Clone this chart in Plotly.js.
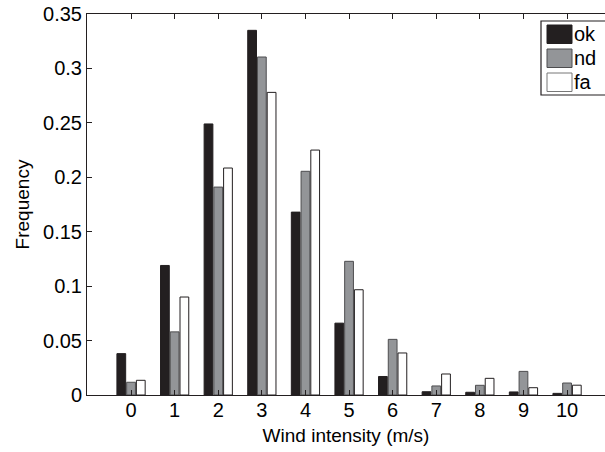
<!DOCTYPE html>
<html>
<head>
<meta charset="utf-8">
<script src="https://cdn.plot.ly/plotly-3.0.1.min.js"></script>
<style>html,body{margin:0;padding:0;background:#fff;}#chart{width:605px;height:452px;}</style>
</head>
<body>
<div id="chart"></div>
<script>
const windIntensity = [0, 1, 2, 3, 4, 5, 6, 7, 8, 9, 10];
const seriesNames = ["ok", "nd", "fa"];
const okValues = [0.038, 0.119, 0.249, 0.335, 0.168, 0.066, 0.017, 0.003, 0.0025, 0.0028, 0.0015];
const ndValues = [0.0117, 0.058, 0.191, 0.3105, 0.2055, 0.1228, 0.0511, 0.0083, 0.0089, 0.0217, 0.011];
const faValues = [0.0135, 0.090, 0.2085, 0.278, 0.225, 0.0967, 0.0386, 0.0193, 0.0153, 0.0067, 0.009];
const yTickVals = [0, 0.05, 0.1, 0.15, 0.2, 0.25, 0.3, 0.35];
const yTickText = ["0", "0.05", "0.1", "0.15", "0.2", "0.25", "0.3", "0.35"];

const fills = ["#231f20", "#939598", "#ffffff"];
const edges = ["#231f20", "#4d4d4f", "#231f20"];
const allValues = [okValues, ndValues, faValues];

const traces = allValues.map((vals, i) => ({
  type: "bar",
  name: seriesNames[i],
  x: windIntensity,
  y: vals,
  marker: {color: fills[i], line: {color: edges[i], width: 1}},
  showlegend: false,
  hoverinfo: "skip"
}));

// custom legend (large swatches like the original)
const W = 605, H = 452, ml = 87, mt = 14, mb = 57;
const pw = W - ml, ph = H - mt - mb;
const px = v => (v - ml) / pw;
const py = v => (H - mb - v) / ph;
const shapes = [{
  type: "rect", xref: "paper", yref: "paper",
  x0: px(541), x1: px(620), y0: py(95), y1: py(21),
  line: {color: "#231f20", width: 1.2}, fillcolor: "#ffffff"
}];
const annotations = [];
const rowTop = [25, 49, 73];
seriesNames.forEach((nm, i) => {
  shapes.push({
    type: "rect", xref: "paper", yref: "paper",
    x0: px(547), x1: px(572), y0: py(rowTop[i] + 18.5), y1: py(rowTop[i]),
    line: {color: i === 2 ? "#777" : edges[i], width: 1}, fillcolor: fills[i]
  });
  annotations.push({
    xref: "paper", yref: "paper", x: px(572), y: py(rowTop[i] + 9.5),
    xanchor: "left", yanchor: "middle", showarrow: false, text: nm,
    font: {size: 20, color: "#000"}
  });
});

const layout = {
  width: W, height: H,
  margin: {l: ml, r: 0, t: mt, b: mb, pad: 0},
  paper_bgcolor: "#fff", plot_bgcolor: "#fff",
  font: {family: "Liberation Sans, Arial, sans-serif", size: 20, color: "#000"},
  barmode: "group", bargap: 0.33, bargroupgap: 0.1,
  xaxis: {
    range: [-1.01, 10.87], tickvals: windIntensity, ticktext: windIntensity.map(String),
    ticks: "inside", ticklen: 5, tickcolor: "#231f20", showline: true, linecolor: "#231f20",
    linewidth: 1, mirror: "ticks", showgrid: false, zeroline: false, ticklabelstandoff: -3,
    title: {text: "Wind intensity (m/s)", standoff: 8, font: {size: 19}}
  },
  yaxis: {
    range: [0, 0.35], tickvals: yTickVals, ticktext: yTickText,
    ticks: "inside", ticklen: 5, tickcolor: "#231f20", showline: true, linecolor: "#231f20",
    linewidth: 1, mirror: false, showgrid: false, zeroline: false,
    title: {text: "Frequency", standoff: 8, font: {size: 19}}
  },
  shapes: shapes,
  annotations: annotations
};

Plotly.newPlot("chart", traces, layout, {staticPlot: true, displayModeBar: false});
</script>
</body>
</html>
